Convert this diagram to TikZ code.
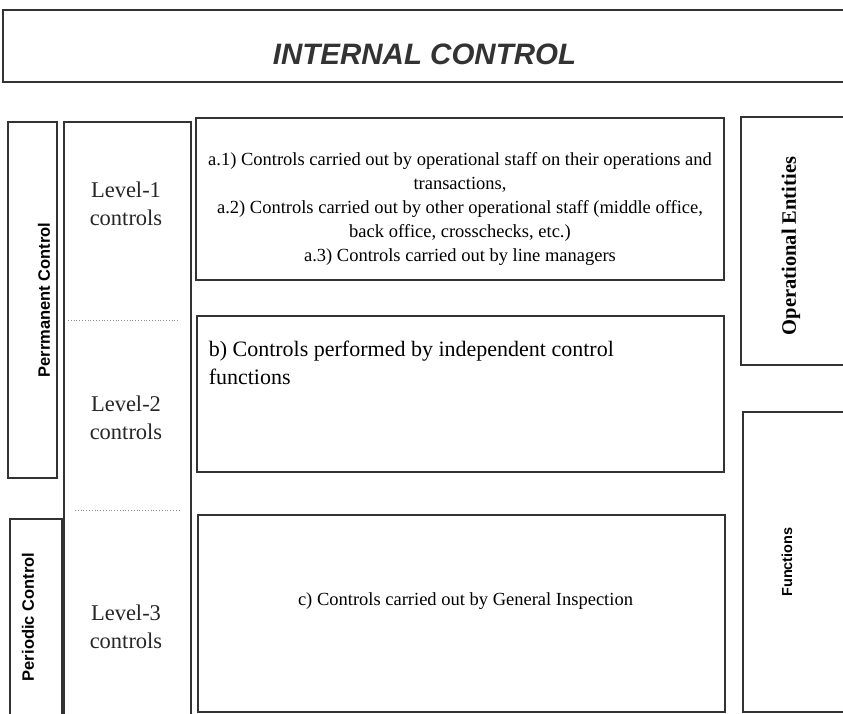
\documentclass[tikz,border=0pt]{standalone}
\usepackage{fontspec}
\setmainfont{Liberation Serif}
\setsansfont{Liberation Sans}

\begin{document}
\begin{tikzpicture}[x=1pt, y=-1pt,
        box/.style={draw=black!80, line width=1.5pt, inner sep=0pt},
        side/.style={rotate=90, font=\sffamily\bfseries\fontsize{16.5}{18}\selectfont},
        lvl/.style={align=center, font=\fontsize{22.5}{28}\selectfont, text=black!85},
        sep/.style={black!45, dotted, line width=0.8pt}]
        \useasboundingbox (0,0) rectangle (843,713);
        % title bar
        \node[box, minimum width=843, minimum height=72] at (424.5,46) (T) {};
        \node[font=\sffamily\bfseries\itshape\fontsize{29.5}{31}\selectfont, text=black!80] at ([yshift=-8]T.center) (Tt) {INTERNAL CONTROL};
        % left column
        \node[box, minimum width=49, minimum height=356] at (32.5,300) (PC) {};
        \node[side] at (44,300) (PCt) {Perrmanent Control};
        \node[box, minimum width=52, minimum height=201] at (36,619.5) (PD) {};
        \node[side] at (28,617) (PDt) {Periodic Control};
        \node[box, minimum width=127, minimum height=598] at (127.5,421) (L) {};
        \node[lvl] at (126,204) (L1) {Level-1\\controls};
        \node[lvl] at (126,418) (L2) {Level-2\\controls};
        \node[lvl] at (126,627) (L3) {Level-3\\controls};
        \draw[sep] (68,320) -- (180,320);
        \draw[sep] (75,510) -- (180,510);
        % control boxes
        \node[box, minimum width=528, minimum height=162] at (460,199) (A) {};
        \node[align=center, font=\fontsize{18.5}{24}\selectfont] at ([yshift=-10]A.center) (At) {a.1) Controls carried out by operational staff on their operations and\\transactions,\\a.2) Controls carried out by other operational staff (middle office,\\back office, crosschecks, etc.)\\a.3) Controls carried out by line managers};
        \node[box, minimum width=527, minimum height=156] at (460.5,394) (B) {};
        \node[anchor=north west, align=left, font=\fontsize{22}{28}\selectfont] at ([xshift=9, yshift=-22]B.north west) (Bt) {b) Controls performed by independent control\\functions};
        \node[box, minimum width=527, minimum height=197] at (461.5,613.5) (C) {};
        \node[font=\fontsize{18.5}{20}\selectfont] at ([xshift=4, yshift=12]C.center) (Ct) {c) Controls carried out by General Inspection};
        % right column
        \node[box, minimum width=109, minimum height=248] at (795.5,241) (OE) {};
        \node[rotate=90, font=\bfseries\fontsize{20.5}{22}\selectfont] at (791,246) (OEt) {Operational Entities};
        \node[box, minimum width=107, minimum height=300] at (796.5,562) (F) {};
        \node[side, font=\sffamily\bfseries\fontsize{14.5}{16}\selectfont] at (787,562) (Ft) {Functions};
    \end{tikzpicture}
\end{document}
